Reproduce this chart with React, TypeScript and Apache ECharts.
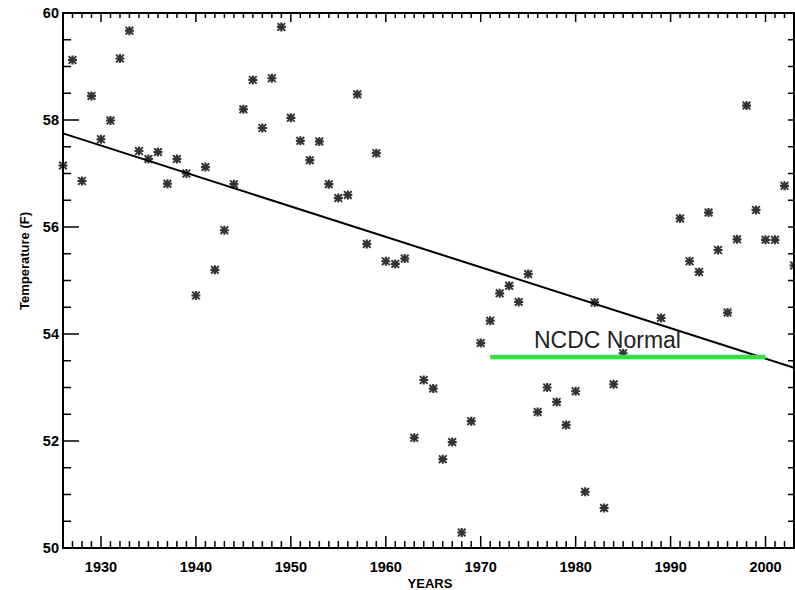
import React, { useEffect, useRef } from "react";
import * as echarts from "echarts";

const years = [
  1926, 1927, 1928, 1929, 1930, 1931, 1932, 1933, 1934, 1935, 1936, 1937, 1938, 1939,
  1940, 1941, 1942, 1943, 1944, 1945, 1946, 1947, 1948, 1949, 1950, 1951, 1952, 1953,
  1954, 1955, 1956, 1957, 1958, 1959, 1960, 1961, 1962, 1963, 1964, 1965, 1966, 1967,
  1968, 1969, 1970, 1971, 1972, 1973, 1974, 1975, 1976, 1977, 1978, 1979, 1980, 1981,
  1982, 1983, 1984, 1985, 1989, 1991, 1992, 1993, 1994, 1995, 1996, 1997, 1998, 1999,
  2000, 2001, 2002, 2003,
];
const temps = [
  57.15, 59.12, 56.86, 58.45, 57.64, 57.99, 59.15, 59.67, 57.42, 57.27, 57.4, 56.81, 57.27, 57.0,
  54.72, 57.12, 55.2, 55.94, 56.8, 58.2, 58.75, 57.85, 58.78, 59.74, 58.04, 57.61, 57.25, 57.6,
  56.8, 56.54, 56.6, 58.48, 55.68, 57.38, 55.36, 55.31, 55.41, 52.06, 53.14, 52.98, 51.66, 51.98,
  50.29, 52.37, 53.83, 54.25, 54.76, 54.9, 54.6, 55.12, 52.54, 53.0, 52.73, 52.3, 52.93, 51.05,
  54.59, 50.75, 53.06, 53.64, 54.3, 56.16, 55.36, 55.16, 56.27, 55.57, 54.4, 55.77, 58.27, 56.32,
  55.76, 55.76, 56.77, 55.28,
];
const trendYears = [1926, 2003];
const trendTemps = [57.75, 53.37];
const normalYears = [1971, 2000];
const normalTemps = [53.57, 53.57];
const yearMin = 1926;
const yearMax = 2003;
const tempMin = 50;
const tempMax = 60;
const majorYearTicks = [1930, 1940, 1950, 1960, 1970, 1980, 1990, 2000];
const majorTempTicks = [50, 52, 54, 56, 58, 60];
const minorTempTicks = [50.5, 51, 51.5, 52.5, 53, 53.5, 54.5, 55, 55.5, 56.5, 57, 57.5, 58.5, 59, 59.5];
const normalLabel = "NCDC Normal";
const xName = "YEARS";
const yName = "Temperature (F)";

const FONT = "'Liberation Sans', Arial, Helvetica, sans-serif";
const ASTERISK =
  "path://M0,3.8L10,3.8L10,6.2L0,6.2Z M3.8,0L6.2,0L6.2,10L3.8,10Z M1.5,0L10,8.5L8.5,10L0,1.5Z M8.5,0L10,1.5L1.5,10L0,8.5Z";

const labelStyle = () => ({
  color: "#000",
  fontFamily: FONT,
  fontSize: 14.5,
  fontWeight: "bold",
  formatter: (v: number) => String(v),
});

// Frame and tick marks drawn through the chart's own coordinate system.
function renderFrame(params: any, api: any) {
  const [xL, yB] = api.coord([yearMin, tempMin]);
  const [xR, yT] = api.coord([yearMax, tempMax]);
  const tick = { stroke: "#000", lineWidth: 1.5 };
  const children: any[] = [];
  const seg = (x1: number, y1: number, x2: number, y2: number) =>
    children.push({ type: "line", shape: { x1, y1, x2, y2 }, style: tick });

  for (let yr = yearMin + 1; yr < yearMax; yr++) {
    const x = api.coord([yr, tempMin])[0];
    const major = majorYearTicks.indexOf(yr) >= 0;
    seg(x, yB, x, yB - (major ? 12 : 7));
    seg(x, yT, x, yT + (major ? 9 : 5));
  }
  majorTempTicks.concat(minorTempTicks).forEach((t) => {
    if (t <= tempMin || t >= tempMax) return;
    const y = api.coord([yearMin, t])[1];
    const major = majorTempTicks.indexOf(t) >= 0;
    seg(xL, y, xL + (major ? 16 : 8), y);
    seg(xR, y, xR - 6, y);
  });
  children.push({
    type: "rect",
    shape: { x: xL, y: yT, width: xR - xL, height: yB - yT },
    style: { fill: "none", stroke: "#000", lineWidth: 2 },
  });
  return { type: "group", children };
}

export default function App() {
  const ref = useRef<HTMLDivElement>(null);

  useEffect(() => {
    if (!ref.current) return;
    const chart = echarts.init(ref.current, null, { renderer: "svg" });

    chart.setOption({
      animation: false,
      grid: { left: 63, right: 1, top: 13, bottom: 42 },
      xAxis: {
        type: "value",
        min: yearMin,
        max: yearMax,
        splitNumber: 8,
        position: "bottom",
        splitLine: { show: false },
        axisLine: { show: true, onZero: false, lineStyle: { color: "#000", width: 2 } },
        axisTick: { show: false },
        axisLabel: { ...labelStyle(), margin: 11, showMinLabel: false, showMaxLabel: false },
      },
      yAxis: {
        type: "value",
        min: tempMin,
        max: tempMax,
        interval: 2,
        position: "left",
        splitLine: { show: false },
        axisLine: { show: true, onZero: false, lineStyle: { color: "#000", width: 2 } },
        axisTick: { show: false },
        axisLabel: { ...labelStyle(), margin: 4 },
      },
      series: [
        {
          type: "custom",
          renderItem: renderFrame,
          data: [[yearMin, tempMin]],
          encode: { x: 0, y: 1 },
          silent: true,
          clip: false,
          z: 1,
        },
        {
          type: "line",
          data: trendYears.map((y, i) => [y, trendTemps[i]]),
          symbol: "none",
          lineStyle: { color: "#000", width: 2 },
          z: 2,
        },
        {
          type: "scatter",
          data: years.map((y, i) => [y, temps[i]]),
          symbol: ASTERISK,
          symbolSize: 9,
          itemStyle: { color: "#000" },
          z: 3,
        },
        {
          type: "line",
          data: normalYears.map((y, i) => [y, normalTemps[i]]),
          symbol: "none",
          lineStyle: { color: "#33e03f", width: 4.5 },
          z: 4,
        },
      ],
      graphic: [
        {
          type: "text",
          x: 534,
          y: 328.5,
          z: 10,
          style: { text: normalLabel, font: `23px ${FONT}`, fill: "#222" },
        },
        {
          type: "text",
          x: 430,
          y: 583,
          style: {
            text: xName,
            font: `bold 13px ${FONT}`,
            fill: "#000",
            align: "center",
            verticalAlign: "middle",
          },
        },
        {
          type: "text",
          x: 24,
          y: 261,
          rotation: Math.PI / 2,
          style: {
            text: yName,
            font: `bold 13px ${FONT}`,
            fill: "#000",
            align: "center",
            verticalAlign: "middle",
          },
        },
      ],
    });
    return () => chart.dispose();
  }, []);

  return <div ref={ref} style={{ position: "absolute", left: 0, top: 0, width: 795, height: 590 }} />;
}
